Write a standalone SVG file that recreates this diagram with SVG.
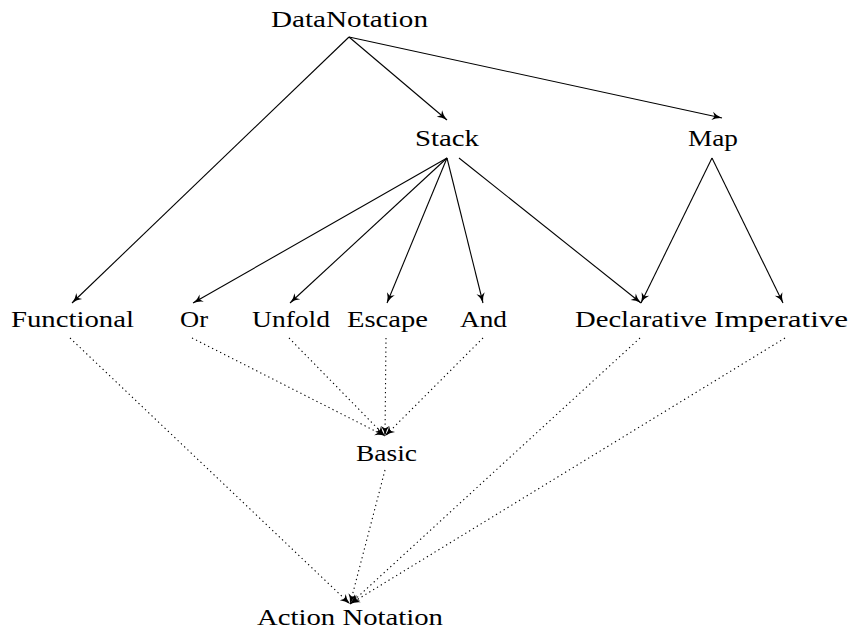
<svg xmlns="http://www.w3.org/2000/svg" width="850" height="635" viewBox="0 0 850 635">
  <style>
    .lbl { font-family: "Liberation Serif", "DejaVu Serif", serif; font-size: 24px; fill: #000; text-anchor: middle; }
    .edge { fill: none; stroke: #000; stroke-width: 1.1; }
    .solid { marker-end: url(#head); }
    .dot { stroke-dasharray: 1.3 3.2; marker-end: url(#head); }
  </style>
  <defs>
    <marker id="head" markerUnits="userSpaceOnUse" markerWidth="14" markerHeight="10" viewBox="-12 -5 14 10" refX="0" refY="0" orient="auto">
      <path d="M0,0 Q-6,-1 -10,-4.2 L-7.5,0 L-10,4.2 Q-6,1 0,0 Z" fill="#000"/>
    </marker>
  </defs>
  <rect width="850" height="635" fill="#fff"/>

  <g id="connectors">
    <!-- DataNotation -->
    <line class="edge solid" x1="349" y1="37" x2="72" y2="303"/>
    <line class="edge solid" x1="349" y1="37" x2="447" y2="120"/>
    <line class="edge solid" x1="349" y1="37" x2="722" y2="118"/>
    <!-- Stack -->
    <line class="edge solid" x1="447" y1="158" x2="193" y2="303"/>
    <line class="edge solid" x1="447" y1="158" x2="290" y2="303"/>
    <line class="edge solid" x1="447" y1="158" x2="387" y2="303"/>
    <line class="edge solid" x1="447" y1="158" x2="483" y2="303"/>
    <line class="edge solid" x1="459" y1="158" x2="641" y2="303"/>
    <!-- Map -->
    <line class="edge solid" x1="712" y1="158" x2="641" y2="303"/>
    <line class="edge solid" x1="712" y1="158" x2="783" y2="303"/>
    <!-- into Basic -->
    <line class="edge dot" x1="192" y1="338" x2="385" y2="436"/>
    <line class="edge dot" x1="289" y1="338" x2="385" y2="436"/>
    <line class="edge dot" x1="386" y1="338" x2="385" y2="436"/>
    <line class="edge dot" x1="483" y1="338" x2="385" y2="436"/>
    <!-- into Action Notation -->
    <line class="edge dot" x1="70" y1="338" x2="350" y2="604"/>
    <line class="edge dot" x1="385" y1="470" x2="350" y2="604"/>
    <line class="edge dot" x1="640" y1="338" x2="350" y2="604"/>
    <line class="edge dot" x1="785" y1="338" x2="350" y2="604"/>
  </g>

  <g id="DataNotation"><text class="lbl" x="349.5" y="27" textLength="157" lengthAdjust="spacingAndGlyphs">DataNotation</text></g>
  <g id="Stack"><text class="lbl" x="447" y="146" textLength="64" lengthAdjust="spacingAndGlyphs">Stack</text></g>
  <g id="Map"><text class="lbl" x="713" y="146" textLength="50" lengthAdjust="spacingAndGlyphs">Map</text></g>
  <g id="Functional"><text class="lbl" x="72.5" y="327" textLength="123" lengthAdjust="spacingAndGlyphs">Functional</text></g>
  <g id="Or"><text class="lbl" x="194" y="327" textLength="28" lengthAdjust="spacingAndGlyphs">Or</text></g>
  <g id="Unfold"><text class="lbl" x="291" y="327" textLength="78" lengthAdjust="spacingAndGlyphs">Unfold</text></g>
  <g id="Escape"><text class="lbl" x="387.5" y="327" textLength="81" lengthAdjust="spacingAndGlyphs">Escape</text></g>
  <g id="And"><text class="lbl" x="483.5" y="327" textLength="47" lengthAdjust="spacingAndGlyphs">And</text></g>
  <g id="Declarative"><text class="lbl" x="641" y="327" textLength="132" lengthAdjust="spacingAndGlyphs">Declarative</text></g>
  <g id="Imperative"><text class="lbl" x="781" y="327" textLength="134" lengthAdjust="spacingAndGlyphs">Imperative</text></g>
  <g id="Basic"><text class="lbl" x="386.5" y="461" textLength="61" lengthAdjust="spacingAndGlyphs">Basic</text></g>
  <g id="ActionNotation"><text class="lbl" x="350" y="625" textLength="186" lengthAdjust="spacingAndGlyphs">Action Notation</text></g>
</svg>
